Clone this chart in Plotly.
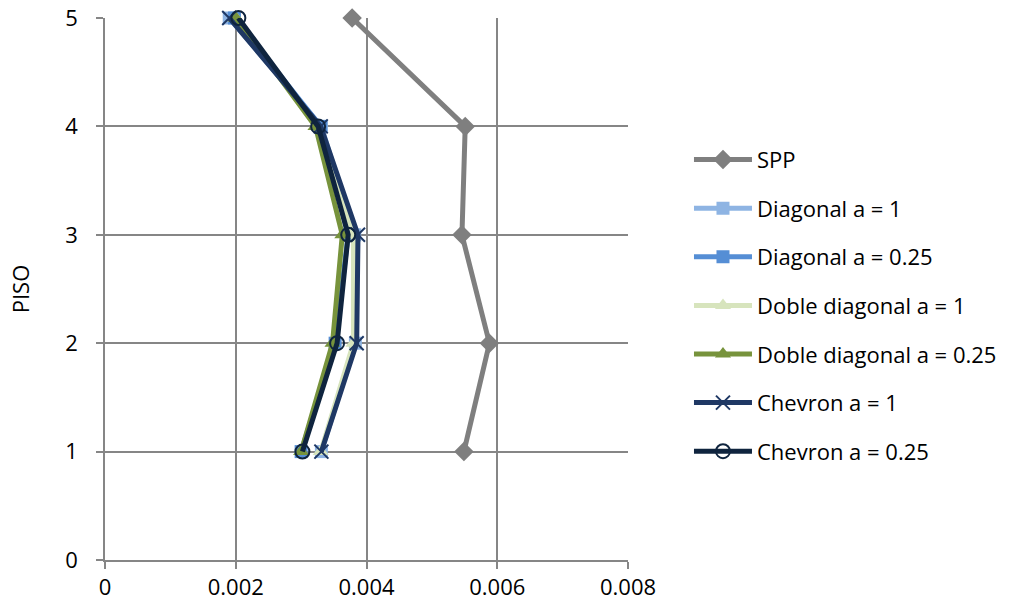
import plotly.graph_objects as go

# Storey number (PISO) and drift values per bracing system
pisos = [1, 2, 3, 4, 5]

spp = [0.00549, 0.00588, 0.00546, 0.00551, 0.00378]
diagonal_a1 = [0.00331, 0.00383, 0.00382, 0.00331, 0.00190]
diagonal_a025 = [0.00300, 0.00352, 0.00372, 0.00330, 0.00198]
doble_diagonal_a1 = [0.00330, 0.00380, 0.00380, 0.00322, 0.00200]
doble_diagonal_a025 = [0.00300, 0.00348, 0.00363, 0.00322, 0.00200]
chevron_a1 = [0.00331, 0.00385, 0.00387, 0.00330, 0.00190]
chevron_a025 = [0.00302, 0.00355, 0.00372, 0.00326, 0.00204]

x_ticks = [0, 0.002, 0.004, 0.006, 0.008]
x_tick_labels = ["0", "0.002", "0.004", "0.006", "0.008"]

series = [
    ("SPP", spp, "#7F7F7F", "diamond", 15, None),
    ("Diagonal a = 1", diagonal_a1, "#8EB4E3", "square", 13, None),
    ("Diagonal a = 0.25", diagonal_a025, "#558ED5", "square", 13, None),
    ("Doble diagonal a = 1", doble_diagonal_a1, "#D7E4BD", "triangle-up", 14, None),
    ("Doble diagonal a = 0.25", doble_diagonal_a025, "#77933C", "triangle-up", 14, None),
    ("Chevron a = 1", chevron_a1, "#1F3864", "x-thin-open", 14, 2),
    ("Chevron a = 0.25", chevron_a025, "#0F243E", "circle-open", 14, 2),
]

fig = go.Figure()
for i, (name, xs, color, symbol, size, mlw) in enumerate(series):
    marker = dict(symbol=symbol, size=size, color=color)
    if mlw:
        marker["line"] = dict(color=color, width=mlw)
    fig.add_trace(go.Scatter(
        x=xs, y=pisos, name=name, mode="lines+markers",
        line=dict(color=color, width=5),
        marker=marker,
        legendgroup=f"g{i}",
        cliponaxis=False,
    ))

font = "'Open Sans', sans-serif"
grid = "#868686"

fig.update_layout(
    width=1016, height=612,
    margin=dict(l=105, r=388, t=18, b=52),
    paper_bgcolor="white", plot_bgcolor="white",
    font=dict(family=font, size=22, color="black"),
    showlegend=True,
    legend=dict(
        x=1.1166, xanchor="left", y=0.469, yanchor="middle",
        tracegroupgap=17, itemwidth=58,
        font=dict(family=font, size=22, color="black"),
        bgcolor="rgba(0,0,0,0)",
    ),
    xaxis=dict(
        range=[0, 0.008], tickvals=x_ticks, ticktext=x_tick_labels,
        showgrid=True, gridcolor=grid, gridwidth=1.5,
        showline=True, linecolor=grid, linewidth=1.5,
        ticks="outside", ticklen=7, tickcolor=grid, tickwidth=1.5,
        zeroline=False, automargin=False,
    ),
    yaxis=dict(
        range=[0, 5], dtick=1,
        showgrid=True, gridcolor=grid, gridwidth=1.5,
        showline=True, linecolor=grid, linewidth=1.5,
        ticks="outside", ticklen=7, tickcolor=grid, tickwidth=1.5,
        ticklabelstandoff=14,
        zeroline=False, automargin=False,
        title=dict(text="PISO", standoff=30, font=dict(family=font, size=22)),
    ),
)

fig.write_html("out.html")
